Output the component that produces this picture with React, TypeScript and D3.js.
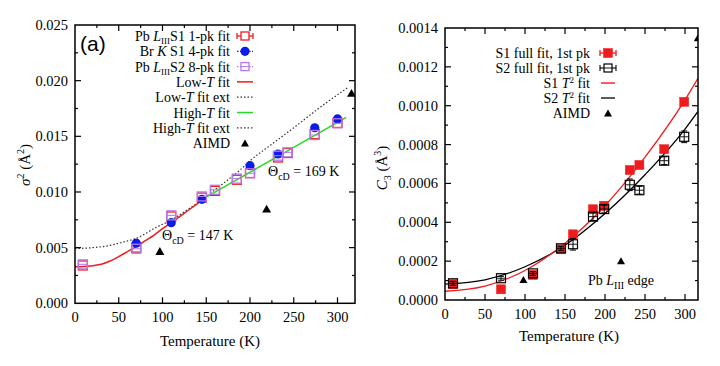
import React from "react";
import * as d3 from "d3";

// ---------- data: left panel (sigma^2) ----------
const tempL = [9, 70, 110, 145, 160, 185, 200, 232, 243, 274, 300];
const pbS1 = [0.0034, 0.005, 0.0078, 0.0095, 0.0101, 0.0111, 0.0117, 0.0131, 0.0135, 0.0152, 0.0162];
const pbS2 = [0.0035, 0.0049, 0.0079, 0.0096, 0.0102, 0.0112, 0.01168, 0.01326, 0.01356, 0.01512, 0.01617];
const brT = [70, 110, 145, 200, 232, 274, 300];
const brS1 = [0.0054, 0.00724, 0.00934, 0.01236, 0.01341, 0.01577, 0.01656];
const aimdT = [97, 219, 316];
const aimdL = [0.0047, 0.0085, 0.0189];
const lowFitT = [0, 10, 20, 30, 40, 50, 60, 70, 80, 90, 100, 110, 120, 130, 140, 148];
const lowFitV = [0.00329, 0.00331, 0.00338, 0.0035, 0.0038, 0.0042, 0.00465, 0.0051, 0.0056, 0.0061, 0.0067, 0.00725, 0.0078, 0.00838, 0.00895, 0.0094];
const lowExtT = [145, 170, 189, 200, 225, 250, 280, 312];
const lowExtV = [0.0093, 0.0108, 0.012, 0.0128, 0.0143, 0.01577, 0.0176, 0.0194];
const highExtT = [0, 20, 40, 55, 70, 93, 110, 128, 145];
const highExtV = [0.00492, 0.005, 0.0052, 0.0055, 0.00584, 0.00683, 0.00748, 0.00838, 0.0093];
const highFitT = [140, 181, 250, 310];
const highFitV = [0.0091, 0.01093, 0.014, 0.0167];
const yTicksL = [0, 0.005, 0.01, 0.015, 0.02, 0.025];

// ---------- data: right panel (C3) ----------
const tempR = [10, 70, 110, 145, 160, 185, 199, 231, 243, 274, 299];
const c3S1 = [0.000081, 0.000055, 0.000129, 0.000261, 0.000338, 0.000467, 0.000485, 0.000669, 0.000695, 0.000776, 0.00102];
const c3S1err = [0.00001, 0.00001, 0.00001, 0.00001, 0.00001, 0.00001, 0.00001, 0.00001, 0.00001, 0.00002, 0.00001];
const c3S2 = [0.000086, 0.000112, 0.000137, 0.000266, 0.000287, 0.000429, 0.000468, 0.000593, 0.000565, 0.000717, 0.00084];
const c3S2err = [0.00001, 0.00001, 0.00001, 0.00001, 0.00003, 0.00002, 0.00002, 0.00003, 0.00002, 0.00002, 0.00003];
const aimdRT = [98, 220, 316];
const aimdR = [0.000106, 0.000202, 0.00135];
const fitT = [0, 50, 100, 150, 200, 250, 300, 316];
const fitS1 = [0.000045, 0.000072, 0.000152, 0.000292, 0.000485, 0.000735, 0.00103, 0.00114];
const fitS2 = [0.000082, 0.000104, 0.000171, 0.000282, 0.000445, 0.000645, 0.00088, 0.00097];
const yTicksR = [0, 0.0002, 0.0004, 0.0006, 0.0008, 0.001, 0.0012, 0.0014];
const xTicks = [0, 50, 100, 150, 200, 250, 300];

const SERIF = "'Liberation Serif', 'Times New Roman', serif";
const RED = "#ee1c1c";
const BLUE = "#0d1be6";
const PURPLE = "#b478ee";
const GREEN = "#22dd22";
const DOT = "#333";

type Sc = d3.ScaleLinear<number, number>;

function Frame({ x, y, xMinor, yMinor }: { x: Sc; y: Sc; xMinor: number; yMinor: number }) {
  const [x0, x1] = x.range();
  const [y0, y1] = y.range();
  const xd = x.domain();
  const yd = y.domain();
  const items: JSX.Element[] = [];
  const nx = Math.floor(xd[1] / xMinor + 1e-6);
  for (let i = 1; i <= nx; i++) {
    const px = x(i * xMinor);
    if (px >= x1 - 0.5) continue;
    const L = i % 2 === 0 ? 6 : 3;
    items.push(<line key={"xb" + i} x1={px} x2={px} y1={y0} y2={y0 - L} stroke="#000" strokeWidth={1.2} />);
    items.push(<line key={"xt" + i} x1={px} x2={px} y1={y1} y2={y1 + L} stroke="#000" strokeWidth={1.2} />);
  }
  const ny = Math.round(yd[1] / yMinor);
  for (let i = 1; i < ny; i++) {
    const py = y(i * yMinor);
    const L = i % 2 === 0 ? 6 : 3;
    items.push(<line key={"yl" + i} x1={x0} x2={x0 + L} y1={py} y2={py} stroke="#000" strokeWidth={1.2} />);
    items.push(<line key={"yr" + i} x1={x1} x2={x1 - L} y1={py} y2={py} stroke="#000" strokeWidth={1.2} />);
  }
  return (
    <g>
      {items}
      <rect x={x0} y={y1} width={x1 - x0} height={y0 - y1} fill="none" stroke="#000" strokeWidth={1.5} />
      {xTicks.map((t) => (
        <text key={"xl" + t} x={x(t)} y={y0 + 19} textAnchor="middle" fontFamily={SERIF} fontSize={14.5}>{t}</text>
      ))}
    </g>
  );
}

function Square({ cx, cy, s, stroke, fill, sw = 1.3 }: { cx: number; cy: number; s: number; stroke: string; fill: string; sw?: number }) {
  return <rect x={cx - s / 2} y={cy - s / 2} width={s} height={s} fill={fill} stroke={stroke} strokeWidth={sw} />;
}
function Tri({ cx, cy, s = 9 }: { cx: number; cy: number; s?: number }) {
  const h = s * 0.87;
  return <path d={`M${cx},${cy - h / 2} L${cx + s / 2},${cy + h / 2} L${cx - s / 2},${cy + h / 2} Z`} fill="#000" />;
}

export default function App() {
  const xL = d3.scaleLinear().domain([0, 320]).range([75, 355]);
  const yL = d3.scaleLinear().domain([0, 0.025]).range([303.3, 25]);
  const xR = d3.scaleLinear().domain([0, 316.25]).range([445, 698]);
  const yR = d3.scaleLinear().domain([0, 0.0014]).range([300, 28]);

  const lineL = (ts: number[], vs: number[]) =>
    d3.line<number>().x((_, i) => xL(ts[i])).y((v) => yL(v)).curve(d3.curveMonotoneX)(vs) || "";
  const lineR = (ts: number[], vs: number[]) =>
    d3.line<number>().x((_, i) => xR(ts[i])).y((v) => yR(v)).curve(d3.curveMonotoneX)(vs) || "";

  const fmtL = d3.format(".3f");
  const fmtR = d3.format(".4f");

  const lgL = { tx: 230, sx: 245, y0: 41, dy: 15.3 };
  const lgR = { tx: 590, sx: 608, y0: 58, dy: 15 };
  const LF = 14;

  return (
    <svg width={720} height={366} style={{ position: "absolute", left: 0, top: 0, background: "#fff" }}>
      <rect x={0} y={0} width={720} height={366} fill="#fff" />
      <defs>
        <clipPath id="clipL"><rect x={75} y={25} width={280} height={278.3} /></clipPath>
        <clipPath id="clipR"><rect x={445} y={28} width={253} height={272} /></clipPath>
      </defs>
      {/* ===================== LEFT PANEL ===================== */}
      <g clipPath="url(#clipL)">
        <path d={lineL(highExtT, highExtV)} fill="none" stroke={DOT} strokeWidth={1.2} strokeDasharray="1.5,2" />
        <path d={lineL(lowExtT, lowExtV)} fill="none" stroke={DOT} strokeWidth={1.2} strokeDasharray="1.5,2" />
        <path d={lineL(lowFitT, lowFitV)} fill="none" stroke={RED} strokeWidth={1.5} />
        <path d={lineL(highFitT, highFitV)} fill="none" stroke={GREEN} strokeWidth={1.5} />
        {tempL.map((t, i) => (
          <Square key={"ps1" + i} cx={xL(t)} cy={yL(pbS1[i])} s={9} stroke={RED} fill="none" />
        ))}
        {brT.map((t, i) => (
          <circle key={"br" + i} cx={xL(t)} cy={yL(brS1[i])} r={4.6} fill={BLUE} />
        ))}
        {tempL.map((t, i) => (
          <g key={"ps2" + i}>
            <Square cx={xL(t)} cy={yL(pbS2[i])} s={9} stroke={PURPLE} fill="none" />
            <line x1={xL(t) - 4.5} x2={xL(t) + 4.5} y1={yL(pbS2[i])} y2={yL(pbS2[i])} stroke={PURPLE} strokeWidth={1} />
          </g>
        ))}
        {aimdT.map((t, i) => (
          <Tri key={"al" + i} cx={xL(t)} cy={yL(aimdL[i])} />
        ))}
      </g>
      <Frame x={xL} y={yL} xMinor={25} yMinor={0.0025} />
      {yTicksL.map((v) => (
        <text key={"yl" + v} x={68} y={yL(v) + 5} textAnchor="end" fontFamily={SERIF} fontSize={14.5}>{fmtL(v)}</text>
      ))}
      <text x={210} y={346} textAnchor="middle" fontFamily={SERIF} fontSize={15}>Temperature (K)</text>
      <text transform="translate(30,165) rotate(-90)" textAnchor="middle" fontFamily={SERIF} fontSize={15}>
        <tspan fontStyle="italic">σ</tspan>
        <tspan fontSize={10} dy={-6}>2</tspan>
        <tspan dy={6}> (Å</tspan>
        <tspan fontSize={10} dy={-6}>2</tspan>
        <tspan dy={6}>)</tspan>
      </text>
      <text x={80} y={51} fontFamily="'Liberation Sans', Arial, sans-serif" fontSize={21}>(a)</text>
      <text x={268} y={176} fontFamily={SERIF} fontSize={14}>
        Θ<tspan fontSize={10} dy={4}>cD</tspan><tspan dy={-4}> = 169 K</tspan>
      </text>
      <text x={162} y={240} fontFamily={SERIF} fontSize={14}>
        Θ<tspan fontSize={10} dy={4}>cD</tspan><tspan dy={-4}> = 147 K</tspan>
      </text>

      {/* left legend */}
      <g fontFamily={SERIF} fontSize={LF}>
        <text x={lgL.tx} y={lgL.y0} textAnchor="end">
          Pb <tspan fontStyle="italic">L</tspan><tspan fontSize={9} dy={3}>III</tspan><tspan dy={-3}>S1 1-pk fit</tspan>
        </text>
        <text x={lgL.tx} y={lgL.y0 + lgL.dy} textAnchor="end">
          Br <tspan fontStyle="italic">K</tspan> S1 4-pk fit
        </text>
        <text x={lgL.tx} y={lgL.y0 + 2 * lgL.dy} textAnchor="end">
          Pb <tspan fontStyle="italic">L</tspan><tspan fontSize={9} dy={3}>III</tspan><tspan dy={-3}>S2 8-pk fit</tspan>
        </text>
        <text x={lgL.tx} y={lgL.y0 + 3 * lgL.dy} textAnchor="end">
          Low-<tspan fontStyle="italic">T</tspan> fit
        </text>
        <text x={lgL.tx} y={lgL.y0 + 4 * lgL.dy} textAnchor="end">
          Low-<tspan fontStyle="italic">T</tspan> fit ext
        </text>
        <text x={lgL.tx} y={lgL.y0 + 5 * lgL.dy} textAnchor="end">
          High-<tspan fontStyle="italic">T</tspan> fit
        </text>
        <text x={lgL.tx} y={lgL.y0 + 6 * lgL.dy} textAnchor="end">
          High-<tspan fontStyle="italic">T</tspan> fit ext
        </text>
        <text x={lgL.tx} y={lgL.y0 + 7 * lgL.dy} textAnchor="end">AIMD</text>
      </g>
      {(() => {
        const cy = (i: number) => lgL.y0 + i * lgL.dy - 5;
        const sx = lgL.sx;
        return (
          <g>
            <line x1={sx - 8} x2={sx + 8} y1={cy(0)} y2={cy(0)} stroke={RED} strokeWidth={1.3} />
            <line x1={sx - 8} x2={sx - 8} y1={cy(0) - 3} y2={cy(0) + 3} stroke={RED} strokeWidth={1.3} />
            <line x1={sx + 8} x2={sx + 8} y1={cy(0) - 3} y2={cy(0) + 3} stroke={RED} strokeWidth={1.3} />
            <Square cx={sx} cy={cy(0)} s={8} stroke={RED} fill="#fff" />
            <line x1={sx - 8} x2={sx + 8} y1={cy(1)} y2={cy(1)} stroke={BLUE} strokeWidth={1.2} strokeDasharray="1.5,1.5" />
            <circle cx={sx} cy={cy(1)} r={4.6} fill={BLUE} />
            <line x1={sx - 8} x2={sx + 8} y1={cy(2)} y2={cy(2)} stroke={PURPLE} strokeWidth={1.2} strokeDasharray="1.5,1.5" />
            <Square cx={sx} cy={cy(2)} s={8} stroke={PURPLE} fill="#fff" />
            <line x1={sx - 4} x2={sx + 4} y1={cy(2)} y2={cy(2)} stroke={PURPLE} strokeWidth={1} />
            <line x1={sx - 8} x2={sx + 8} y1={cy(3)} y2={cy(3)} stroke={RED} strokeWidth={1.5} />
            <line x1={sx - 8} x2={sx + 8} y1={cy(4)} y2={cy(4)} stroke={DOT} strokeWidth={1.2} strokeDasharray="1.5,2" />
            <line x1={sx - 8} x2={sx + 8} y1={cy(5)} y2={cy(5)} stroke={GREEN} strokeWidth={1.5} />
            <line x1={sx - 8} x2={sx + 8} y1={cy(6)} y2={cy(6)} stroke={DOT} strokeWidth={1.2} strokeDasharray="1.5,2" />
            <Tri cx={sx} cy={cy(7)} s={8} />
          </g>
        );
      })()}

      {/* ===================== RIGHT PANEL ===================== */}
      <g clipPath="url(#clipR)">
        <path d={lineR(fitT, fitS2)} fill="none" stroke="#000" strokeWidth={1.3} />
        <path d={lineR(fitT, fitS1)} fill="none" stroke={RED} strokeWidth={1.3} />
        {tempR.map((t, i) => (
          <g key={"s1" + i}>
            <line x1={xR(t)} x2={xR(t)} y1={yR(c3S1[i] - c3S1err[i])} y2={yR(c3S1[i] + c3S1err[i])} stroke={RED} strokeWidth={1.2} />
            <Square cx={xR(t)} cy={yR(c3S1[i])} s={9} stroke={RED} fill={RED} sw={0.5} />
          </g>
        ))}
        {tempR.map((t, i) => {
          const cx = xR(t);
          const cy = yR(c3S2[i]);
          const e1 = yR(c3S2[i] + c3S2err[i]);
          const e0 = yR(c3S2[i] - c3S2err[i]);
          return (
            <g key={"s2" + i}>
              <line x1={cx} x2={cx} y1={e0} y2={e1} stroke="#000" strokeWidth={1} />
              <line x1={cx - 3} x2={cx + 3} y1={e0} y2={e0} stroke="#000" strokeWidth={1} />
              <line x1={cx - 3} x2={cx + 3} y1={e1} y2={e1} stroke="#000" strokeWidth={1} />
              <Square cx={cx} cy={cy} s={9} stroke="#000" fill="none" sw={1.2} />
              <line x1={cx - 4.5} x2={cx + 4.5} y1={cy} y2={cy} stroke="#000" strokeWidth={0.9} />
            </g>
          );
        })}
        {aimdRT.map((t, i) => (
          <Tri key={"ar" + i} cx={xR(t)} cy={yR(aimdR[i])} s={8} />
        ))}
      </g>
      <Frame x={xR} y={yR} xMinor={25} yMinor={0.0001} />
      {yTicksR.map((v) => (
        <text key={"yr" + v} x={438} y={yR(v) + 5} textAnchor="end" fontFamily={SERIF} fontSize={14.5}>{fmtR(v)}</text>
      ))}
      <text x={569} y={341} textAnchor="middle" fontFamily={SERIF} fontSize={15}>Temperature (K)</text>
      <text transform="translate(387,168) rotate(-90)" textAnchor="middle" fontFamily={SERIF} fontSize={15}>
        <tspan fontStyle="italic">C</tspan>
        <tspan fontSize={10} dy={4}>3</tspan>
        <tspan dy={-4}> (Å</tspan>
        <tspan fontSize={10} dy={-6}>3</tspan>
        <tspan dy={6}>)</tspan>
      </text>
      <text x={588} y={285} fontFamily={SERIF} fontSize={14}>
        Pb <tspan fontStyle="italic">L</tspan><tspan fontSize={10} dy={4}>III</tspan><tspan dy={-4}> edge</tspan>
      </text>

      {/* right legend */}
      <g fontFamily={SERIF} fontSize={LF}>
        <text x={lgR.tx} y={lgR.y0} textAnchor="end">S1 full fit, 1st pk</text>
        <text x={lgR.tx} y={lgR.y0 + lgR.dy} textAnchor="end">S2 full fit, 1st pk</text>
        <text x={lgR.tx} y={lgR.y0 + 2 * lgR.dy} textAnchor="end">
          S1 <tspan fontStyle="italic">T</tspan><tspan fontSize={9} dy={-5}>2</tspan><tspan dy={5}> fit</tspan>
        </text>
        <text x={lgR.tx} y={lgR.y0 + 3 * lgR.dy} textAnchor="end">
          S2 <tspan fontStyle="italic">T</tspan><tspan fontSize={9} dy={-5}>2</tspan><tspan dy={5}> fit</tspan>
        </text>
        <text x={lgR.tx} y={lgR.y0 + 4 * lgR.dy} textAnchor="end">AIMD</text>
      </g>
      {(() => {
        const cy = (i: number) => lgR.y0 + i * lgR.dy - 5;
        const sx = lgR.sx;
        return (
          <g>
            <line x1={sx - 8} x2={sx + 8} y1={cy(0)} y2={cy(0)} stroke={RED} strokeWidth={1.3} />
            <line x1={sx - 8} x2={sx - 8} y1={cy(0) - 3} y2={cy(0) + 3} stroke={RED} strokeWidth={1.3} />
            <line x1={sx + 8} x2={sx + 8} y1={cy(0) - 3} y2={cy(0) + 3} stroke={RED} strokeWidth={1.3} />
            <Square cx={sx} cy={cy(0)} s={9} stroke={RED} fill={RED} sw={0.5} />
            <line x1={sx - 8} x2={sx + 8} y1={cy(1)} y2={cy(1)} stroke="#000" strokeWidth={1.1} />
            <line x1={sx - 8} x2={sx - 8} y1={cy(1) - 3} y2={cy(1) + 3} stroke="#000" strokeWidth={1.1} />
            <line x1={sx + 8} x2={sx + 8} y1={cy(1) - 3} y2={cy(1) + 3} stroke="#000" strokeWidth={1.1} />
            <Square cx={sx} cy={cy(1)} s={8} stroke="#000" fill="#fff" sw={1.2} />
            <line x1={sx - 4} x2={sx + 4} y1={cy(1)} y2={cy(1)} stroke="#000" strokeWidth={0.9} />
            <line x1={sx - 7} x2={sx + 7} y1={cy(2)} y2={cy(2)} stroke={RED} strokeWidth={1.4} />
            <line x1={sx - 7} x2={sx + 7} y1={cy(3)} y2={cy(3)} stroke="#000" strokeWidth={1.3} />
            <Tri cx={sx} cy={cy(4)} s={8} />
          </g>
        );
      })()}
    </svg>
  );
}
